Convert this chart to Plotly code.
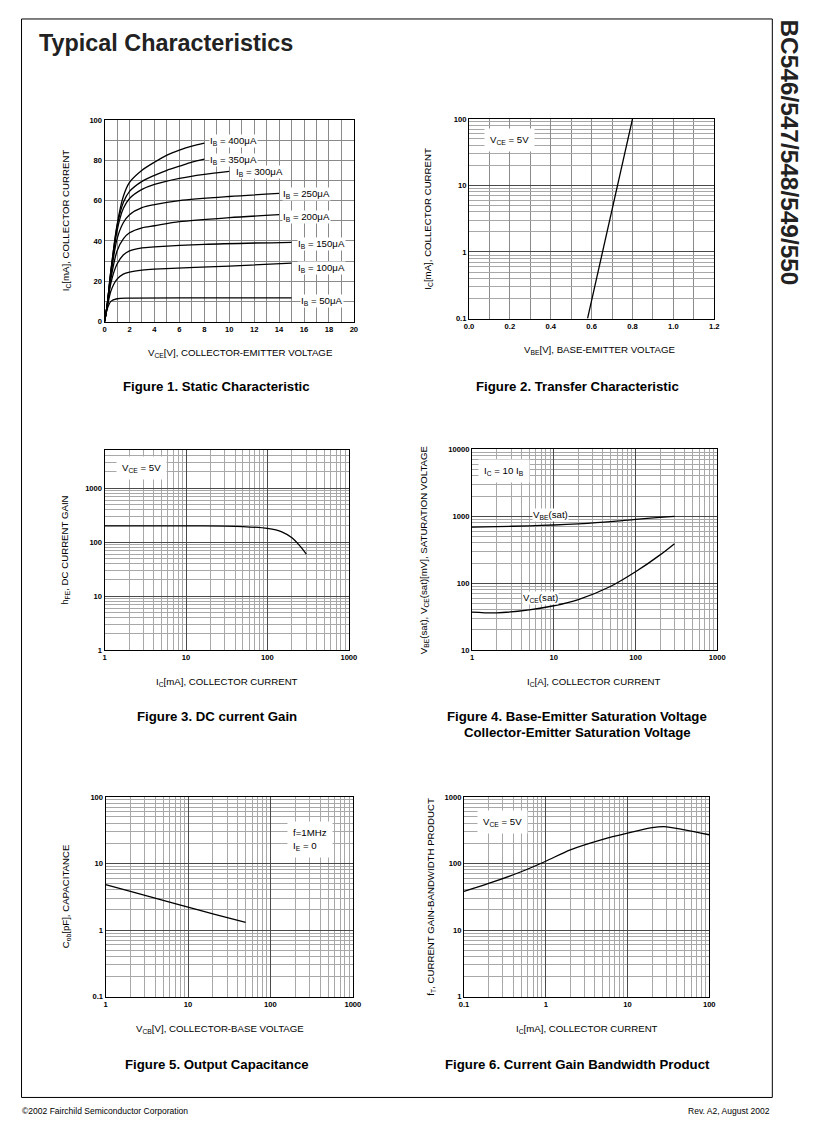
import numpy as np
import plotly.graph_objects as go

W, H = 815, 1139
FONT = "Liberation Sans, Arial, sans-serif"

# ---------------- DATA ----------------
# Figure 1: Static characteristic (VCE [V] -> IC [mA]) per base current
ib_labels = ["I<sub>B</sub> = 400\u03bcA", "I<sub>B</sub> = 350\u03bcA", "I<sub>B</sub> = 300\u03bcA",
             "I<sub>B</sub> = 250\u03bcA", "I<sub>B</sub> = 200\u03bcA", "I<sub>B</sub> = 150\u03bcA",
             "I<sub>B</sub> = 100\u03bcA", "I<sub>B</sub> = 50\u03bcA"]
ib400_v = [0, 0.2, 0.5, 1, 1.5, 2, 3, 4, 5, 6, 7, 8]
ib400_i = [0, 8, 25, 48, 62, 69, 75, 79, 82.5, 85, 87, 88.5]
ib350_v = [0, 0.2, 0.5, 1, 1.5, 2, 3, 4, 5, 6, 7, 8]
ib350_i = [0, 8, 25, 47, 59, 64.5, 69.5, 72.5, 75, 77, 79, 80.5]
ib300_v = [0, 0.2, 0.5, 1, 1.5, 2, 3, 4, 6, 8, 10]
ib300_i = [0, 8, 24, 45, 56, 61, 65.5, 68, 71, 73, 74.5]
ib250_v = [0, 0.2, 0.5, 1, 1.5, 2, 3, 4, 6, 10, 14]
ib250_i = [0, 8, 23, 41, 49, 53, 56.5, 58, 60, 62, 63.5]
ib200_v = [0, 0.2, 0.5, 1, 1.5, 2, 3, 4, 6, 10, 14]
ib200_i = [0, 7.5, 21, 35, 41, 44, 46.5, 47.5, 49.5, 51.5, 53]
ib150_v = [0, 0.2, 0.5, 1, 1.5, 2, 3, 4, 8, 15]
ib150_i = [0, 7, 19, 28.5, 33, 35, 36.5, 37, 38.3, 39.3]
ib100_v = [0, 0.2, 0.5, 1, 1.5, 2, 3, 4, 10, 15]
ib100_i = [0, 6.5, 15, 21, 23.5, 24.5, 25.5, 26, 27.5, 29]
ib50_v = [0, 0.2, 0.5, 1, 2, 8, 15]
ib50_i = [0, 6, 10, 11.3, 11.6, 11.7, 11.7]
ib_label_pos_v = [8.4, 8.4, 10.45, 14.2, 14.2, 15.4, 15.4, 15.7]
ib_label_pos_i = [89.5, 80, 74, 63, 51.6, 38.4, 26.6, 10]

# Figure 2: Transfer characteristic (VBE [V] -> IC [mA])
vbe_v = [0.58, 0.80]
vbe_ic = [0.1, 100]

# Figure 3: DC current gain (IC [mA] -> hFE)
hfe_ic = [1, 3, 10, 30, 50, 100, 150, 200, 250, 300]
hfe_val = [200, 200, 200, 198, 194, 179, 155, 120, 85, 60]

# Figure 4: saturation voltages (IC -> mV)
sat_ic = [1, 2, 5, 10, 20, 50, 100, 200, 300]
vbe_sat = [690, 700, 720, 740, 770, 830, 900, 960, 1000]
vce_sat = [37, 36, 40, 46, 57, 90, 148, 265, 390]

# Figure 5: output capacitance (VCB [V] -> Cob [pF])
cob_v = [1, 2, 5, 10, 20, 50]
cob_pf = [4.8, 3.8, 2.8, 2.2, 1.75, 1.3]

# Figure 6: gain-bandwidth product (IC [mA] -> fT [MHz])
ft_ic = [0.1, 0.2, 0.5, 1, 2, 5, 10, 20, 28, 50, 100]
ft_val = [38, 50, 75, 108, 160, 230, 285, 345, 358, 320, 270]

# ---------------- HELPERS ----------------
SX, OX = 0.983, 5.5     # compensation for the capture's slight rescale
SY, OY = 0.9935, 4.0

def px(x):
    return ((x - OX) / SX) / W

def py(y):
    return 1 - ((y - OY) / SY) / H

FS = 1.0 / SX

def minor_log(lo, hi):
    return [m * 10 ** e for e in range(lo, hi) for m in range(2, 10)]

TICKFONT = dict(size=7.5 * FS, family=FONT, color="black", weight="bold")

def lin_axis(dom, rng, dtick, mdtick, anchor):
    return dict(domain=dom, range=rng, dtick=dtick, tick0=0, showline=True, linecolor="black",
                linewidth=1, mirror=True, ticks="", zeroline=False, showgrid=True,
                gridcolor="#8a8a8a", gridwidth=1, tickfont=TICKFONT, anchor=anchor,
                minor=dict(dtick=mdtick, tick0=0, showgrid=True, gridcolor="#8a8a8a", gridwidth=1, ticks=""),
                fixedrange=True)

def log_axis(dom, lo, hi, labels, anchor, top=None):
    top_val = top if top is not None else 10 ** hi
    vals = [10 ** e for e in range(lo, hi + 1)]
    mv = [v for v in minor_log(lo, hi + 1) if v < top_val]
    return dict(domain=dom, type="log", range=[lo, np.log10(top_val)], tickmode="array",
                tickvals=vals, ticktext=labels, showline=True, linecolor="black", linewidth=1,
                mirror=True, ticks="", zeroline=False, showgrid=True, gridcolor="#4a4a4a",
                gridwidth=1, tickfont=TICKFONT, anchor=anchor,
                minor=dict(tickmode="array", tickvals=mv, showgrid=True, gridcolor="#a8a8a8",
                           gridwidth=1, ticks=""),
                fixedrange=True)

fig = go.Figure()
LINE = dict(color="black", width=1.3, shape="spline", smoothing=0.8)

# Figure 1 traces
for v, i in [(ib400_v, ib400_i), (ib350_v, ib350_i), (ib300_v, ib300_i), (ib250_v, ib250_i),
             (ib200_v, ib200_i), (ib150_v, ib150_i), (ib100_v, ib100_i), (ib50_v, ib50_i)]:
    fig.add_trace(go.Scatter(x=v, y=i, mode="lines", line=LINE, xaxis="x", yaxis="y"))

fig.add_trace(go.Scatter(x=vbe_v, y=vbe_ic, mode="lines", line=dict(color="black", width=1.3),
                         xaxis="x2", yaxis="y2"))
fig.add_trace(go.Scatter(x=hfe_ic, y=hfe_val, mode="lines", line=LINE, xaxis="x3", yaxis="y3"))
fig.add_trace(go.Scatter(x=sat_ic, y=vbe_sat, mode="lines", line=LINE, xaxis="x4", yaxis="y4"))
fig.add_trace(go.Scatter(x=sat_ic, y=vce_sat, mode="lines", line=LINE, xaxis="x4", yaxis="y4"))
fig.add_trace(go.Scatter(x=cob_v, y=cob_pf, mode="lines", line=LINE, xaxis="x5", yaxis="y5"))
fig.add_trace(go.Scatter(x=ft_ic, y=ft_val, mode="lines", line=LINE, xaxis="x6", yaxis="y6"))

# axes domains (pixels -> paper)
d1x = [px(105), px(354)]; d1y = [py(322), py(120)]
d2x = [px(469), px(714)]; d2y = [py(319), py(119)]
d3x = [px(105), px(349)]; d3y = [py(651), py(451)]
d4x = [px(472), px(717)]; d4y = [py(651), py(450)]
d5x = [px(106), px(353)]; d5y = [py(998), py(798)]
d6x = [px(464), px(709)]; d6y = [py(998), py(798)]

layout = dict(
    width=W, height=H, margin=dict(l=0, r=0, t=0, b=0), showlegend=False,
    paper_bgcolor="white", plot_bgcolor="white", font=dict(family=FONT, color="black"),
    xaxis=lin_axis(d1x, [0, 20], 2, 1, "y"),
    yaxis=lin_axis(d1y, [0, 100], 20, 10, "x"),
    xaxis2=dict(lin_axis(d2x, [0, 1.2], 0.2, 0.1, "y2"), tickformat=".1f"),
    yaxis2=log_axis(d2y, -1, 2, ["0.1", "1", "10", "100"], "x2"),
    xaxis3=log_axis(d3x, 0, 3, ["1", "10", "100", "1000"], "y3"),
    yaxis3=log_axis(d3y, 0, 3, ["1", "10", "100", "1000"], "x3", top=5000),
    xaxis4=log_axis(d4x, 0, 3, ["1", "10", "100", "1000"], "y4"),
    yaxis4=log_axis(d4y, 1, 4, ["10", "100", "1000", "10000"], "x4"),
    xaxis5=log_axis(d5x, 0, 3, ["1", "10", "100", "1000"], "y5"),
    yaxis5=log_axis(d5y, -1, 2, ["0.1", "1", "10", "100"], "x5"),
    xaxis6=log_axis(d6x, -1, 2, ["0.1", "1", "10", "100"], "y6"),
    yaxis6=log_axis(d6y, 0, 3, ["1", "10", "100", "1000"], "x6"),
)
fig.update_layout(**layout)

LBL = dict(size=9.5 * FS, family=FONT)
ann = []
# Figure 1 curve labels
for lab, xv, yv in zip(ib_labels, ib_label_pos_v, ib_label_pos_i):
    ann.append(dict(x=xv, y=yv, xref="x", yref="y", text=lab, showarrow=False, xanchor="left",
                    yanchor="middle", bgcolor="white", borderpad=0, font=LBL))

def box(text, xr, yr, x, y, xanchor="center", align="center"):
    return dict(x=x, y=y, xref=xr, yref=yr, text=text, showarrow=False, xanchor=xanchor,
                yanchor="middle", bgcolor="white", borderpad=5, align=align, font=LBL)

ann.append(box("V<sub>CE</sub> = 5V", "x2", "y2", 0.2, 1.685))
ann.append(box("V<sub>CE</sub> = 5V", "x3", "y3", np.log10(2.85), np.log10(2380)))
ann.append(box("I<sub>C</sub> = 10 I<sub>B</sub>", "x4", "y4", np.log10(2.45), np.log10(4700)))
ann.append(dict(x=np.log10(9.0), y=np.log10(1060), xref="x4", yref="y4", text="V<sub>BE</sub>(sat)",
                showarrow=False, bgcolor="white", borderpad=0, font=LBL))
ann.append(dict(x=np.log10(6.8), y=np.log10(60), xref="x4", yref="y4", text="V<sub>CE</sub>(sat)",
                showarrow=False, bgcolor="white", borderpad=0, font=LBL))
ann.append(box("f=1MHz<br>I<sub>E</sub> = 0", "x5", "y5", np.log10(160), np.log10(22.6),
               xanchor="left", align="left"))
ann.append(box("V<sub>CE</sub> = 5V", "x6", "y6", np.log10(0.3), np.log10(420)))

# axis titles
AT = dict(size=9.5 * FS, family=FONT)
def xt(text, x, y):
    return dict(x=px(x), y=py(y), xref="paper", yref="paper", text=text, showarrow=False,
                font=AT, xanchor="center", yanchor="middle")
def yt(text, x, y):
    return dict(x=px(x), y=py(y), xref="paper", yref="paper", text=text, showarrow=False,
                font=AT, textangle=-90, xanchor="center", yanchor="middle")

ann += [
    xt("V<sub>CE</sub>[V], COLLECTOR-EMITTER VOLTAGE", 241, 353),
    yt("I<sub>C</sub>[mA], COLLECTOR CURRENT", 66, 221),
    xt("V<sub>BE</sub>[V], BASE-EMITTER VOLTAGE", 599, 350),
    yt("I<sub>C</sub>[mA], COLLECTOR CURRENT", 428, 219),
    xt("I<sub>C</sub>[mA], COLLECTOR CURRENT", 227, 683),
    yt("h<sub>FE</sub>, DC CURRENT GAIN", 66, 551),
    xt("I<sub>C</sub>[A], COLLECTOR CURRENT", 594, 683),
    yt("V<sub>BE</sub>(sat), V<sub>CE</sub>(sat)[mV], SATURATION VOLTAGE", 424, 550),
    xt("V<sub>CB</sub>[V], COLLECTOR-BASE VOLTAGE", 220, 1030),
    yt("C<sub>ob</sub>[pF], CAPACITANCE", 66, 898),
    xt("I<sub>C</sub>[mA], COLLECTOR CURRENT", 587, 1030),
    yt("f<sub>T</sub>, CURRENT GAIN-BANDWIDTH PRODUCT", 431, 898),
]

# captions
CF = dict(size=13 * FS, family=FONT, weight="bold")
def cap(text, x, y):
    return dict(x=px(x), y=py(y), xref="paper", yref="paper", text=text, showarrow=False,
                font=CF, xanchor="center", yanchor="middle")
ann += [
    cap("Figure 1. Static Characteristic", 217, 387),
    cap("Figure 2. Transfer Characteristic", 577, 387),
    cap("Figure 3. DC current Gain", 217, 718),
    cap("Figure 4. Base-Emitter Saturation Voltage", 577, 718),
    cap("Collector-Emitter Saturation Voltage", 577, 734),
    cap("Figure 5. Output Capacitance", 217, 1066),
    cap("Figure 6. Current Gain Bandwidth Product", 577, 1066),
]

# page title / side title / footer
ann.append(dict(x=px(37), y=py(43), xref="paper", yref="paper", text="Typical Characteristics",
                showarrow=False, xanchor="left", yanchor="middle",
                font=dict(size=23 * FS, family=FONT, weight="bold", color="#222")))
ann.append(dict(x=px(789), y=py(153), xref="paper", yref="paper", text="BC546/547/548/549/550",
                showarrow=False, textangle=90, xanchor="center", yanchor="middle",
                font=dict(size=24 * FS, family=FONT, weight="bold", color="#222")))
ann.append(dict(x=px(20), y=py(1113), xref="paper", yref="paper",
                text="\u00a92002 Fairchild Semiconductor Corporation", showarrow=False,
                xanchor="left", yanchor="middle", font=dict(size=8.4 * FS, family=FONT)))
ann.append(dict(x=px(772), y=py(1113), xref="paper", yref="paper", text="Rev. A2, August 2002",
                showarrow=False, xanchor="right", yanchor="middle", font=dict(size=8.4 * FS, family=FONT)))

fig.update_layout(annotations=ann)
fig.add_shape(type="rect", xref="paper", yref="paper", x0=px(22), x1=px(772), y0=py(1099), y1=py(19),
              line=dict(color="black", width=1), layer="below")

fig.write_html("out.html", config={"displayModeBar": False},
               post_script="document.body.style.margin='0';document.body.style.padding='0';"
                           "document.body.style.overflow='hidden';")
